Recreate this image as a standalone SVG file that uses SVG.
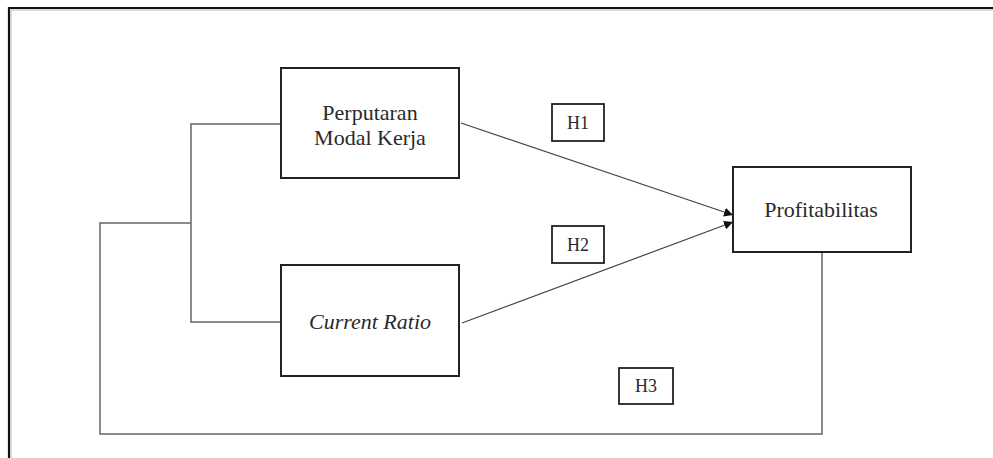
<svg xmlns="http://www.w3.org/2000/svg" width="993" height="458" viewBox="0 0 993 458">
<style>
.box{fill:#fff;stroke:#222;stroke-width:2}
.lab{fill:#fff;stroke:#222;stroke-width:1.8}
.t{font-family:"Liberation Serif","Times New Roman",serif;fill:#2a2a2a;text-anchor:middle}
.big{font-size:22px}
.small{font-size:18px}
.conn{fill:none;stroke:#666;stroke-width:1.5}
.arr{fill:none;stroke:#444;stroke-width:1.2}
</style>
<defs>
<marker id="ah" viewBox="0 0 10 10" refX="10" refY="5" markerWidth="9" markerHeight="9" markerUnits="userSpaceOnUse" orient="auto">
<path d="M0,0 L10,5 L0,10 z" fill="#111"/>
</marker>
</defs>
<rect width="993" height="458" fill="#fff"/>
<path d="M9,458 V8 H993" fill="none" stroke="#111" stroke-width="2.2"/>
<path d="M11,458 V10 H993" fill="none" stroke="#bbb" stroke-width="1"/>
<g id="connectors">
<path class="conn" d="M281,124 H191 V322 H281"/>
<path class="conn" d="M191,223 H100 V434 H822 V252"/>
<path class="arr" d="M461,123 L733,215" marker-end="url(#ah)"/>
<path class="arr" d="M462,323 L733,222" marker-end="url(#ah)"/>
</g>
<g id="perputaran">
<rect class="box" x="281" y="68" width="178" height="110"/>
<text class="t big" x="370" y="120">Perputaran</text>
<text class="t big" x="370" y="145">Modal Kerja</text>
</g>
<g id="current-ratio">
<rect class="box" x="281" y="265" width="178" height="111"/>
<text class="t big" x="370" y="329" font-style="italic">Current Ratio</text>
</g>
<g id="profitabilitas">
<rect class="box" x="733" y="167" width="178" height="85"/>
<text class="t big" x="821" y="217">Profitabilitas</text>
</g>
<g id="h1">
<rect class="lab" x="552" y="104" width="52" height="37"/>
<text class="t small" x="578" y="129">H1</text>
</g>
<g id="h2">
<rect class="lab" x="552" y="226" width="52" height="37"/>
<text class="t small" x="578" y="251">H2</text>
</g>
<g id="h3">
<rect class="lab" x="619" y="368" width="54" height="36"/>
<text class="t small" x="646" y="392">H3</text>
</g>
</svg>
